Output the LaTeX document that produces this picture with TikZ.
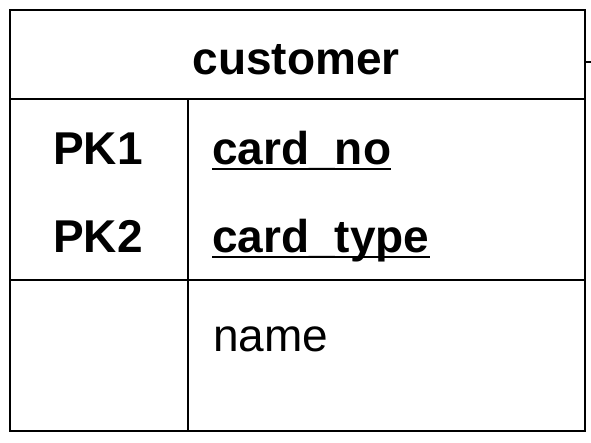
\documentclass[tikz,border=0pt]{standalone}
\usepackage{fontspec}
\setmainfont{Liberation Sans}
\usetikzlibrary{calc,positioning}

\begin{document}
\begin{tikzpicture}[x=1bp,y=1bp
    , every node/.style={inner sep=0pt,font=\fontsize{46bp}{50bp}\selectfont}
    , key/.style={anchor=base west,font=\fontsize{46bp}{50bp}\selectfont\bfseries}
    , attr/.style={anchor=base west}
    , frame/.style={line width=2.6bp}
    , keyline/.style={line width=2.4bp}
]
    \useasboundingbox (0,0) rectangle (591,443);

    % Table frame
    \draw[frame] (10,12) rectangle (585,433);
    \coordinate (headsplit west) at (10,344);
    \coordinate (headsplit east) at (585,344);
    \coordinate (rowsplit west) at (10,163);
    \coordinate (rowsplit east) at (585,163);
    \coordinate (colsplit top) at (188,344);
    \coordinate (colsplit bottom) at (188,12);
    \draw[frame] (headsplit west) -- (headsplit east);
    \draw[frame] (rowsplit west) -- (rowsplit east);
    \draw[frame] (colsplit top) -- (colsplit bottom);

    % Title
    \node[anchor=base,font=\fontsize{46bp}{50bp}\selectfont\bfseries] (title) at (296,368) {customer};

    % Keys
    \node[key] (pk1) at (53,278) {PK1};
    \node[key] (pk2) at (53,190) {PK2};
    \node[key] (cardno) at (212,278) {card\_no};
    \node[key] (cardtype) at (212,190) {card\_type};
    \draw[keyline] ($(cardno.base west)+(0,-4)$) -- ($(cardno.base east)+(0,-4)$);
    \draw[keyline] ($(cardtype.base west)+(0,-4)$) -- ($(cardtype.base east)+(0,-4)$);

    % Attributes
    \node[attr] (name) at (213,91) {name};

    % Relation stub
    \coordinate (tablestub) at (585,381);
    \coordinate (stubend) at (591,381);
    \draw[frame] (tablestub) -- (stubend);
\end{tikzpicture}
\end{document}
